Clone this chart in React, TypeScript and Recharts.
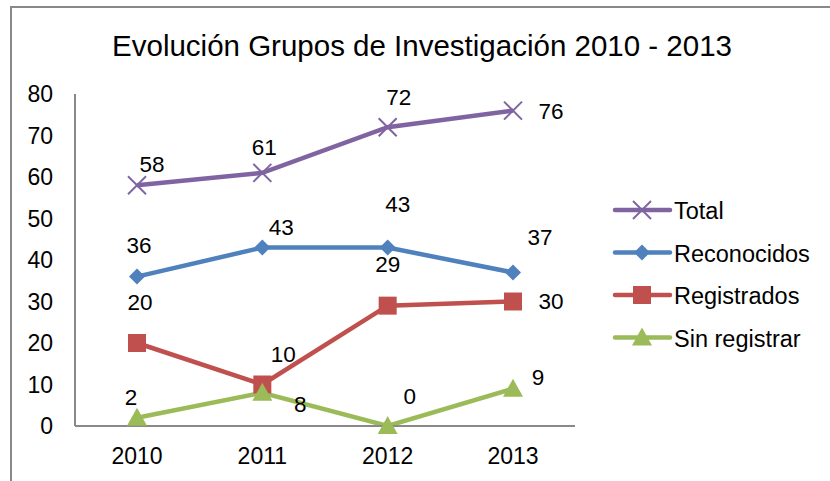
import { LineChart, Line, XAxis, YAxis, LabelList } from 'recharts'

const years = ['2010', '2011', '2012', '2013']
const total = [58, 61, 72, 76]
const reconocidos = [36, 43, 43, 37]
const registrados = [20, 10, 29, 30]
const sinRegistrar = [2, 8, 0, 9]
const yTicks = [0, 10, 20, 30, 40, 50, 60, 70, 80]

const data = years.map((year, i) => ({
  year,
  total: total[i],
  reconocidos: reconocidos[i],
  registrados: registrados[i],
  sinRegistrar: sinRegistrar[i],
}))

const FONT = '"Liberation Sans", Arial, sans-serif'
const PURPLE = '#8064A2'
const BLUE = '#4F81BD'
const RED = '#C0504D'
const GREEN = '#9BBB59'
const AXIS = '#898989'

// label offsets (Excel placed them by hand, more or less)
const labelOffsets: Record<string, [number, number][]> = {
  total: [[15, -21], [2, -25], [11, -30], [38, 1]],
  reconocidos: [[2, -31], [19, -20], [10, -43], [27, -35]],
  registrados: [[3, -41], [21, -30], [0, -41], [38, 0]],
  sinRegistrar: [[-6, -20], [38, 12], [22, -30], [25, -11]],
}

const drawMarker = (shape: string, cx: number, cy: number, color: string, key?: string) => {
  if (shape === 'cross') {
    const r = 9
    return (
      <g key={key}>
        <line x1={cx - r} y1={cy - r} x2={cx + r} y2={cy + r} stroke={color} strokeWidth={2} />
        <line x1={cx - r} y1={cy + r} x2={cx + r} y2={cy - r} stroke={color} strokeWidth={2} />
      </g>
    )
  }
  if (shape === 'diamond') {
    const r = 8
    return (
      <polygon key={key} points={`${cx},${cy - r} ${cx + r},${cy} ${cx},${cy + r} ${cx - r},${cy}`} fill={color} />
    )
  }
  if (shape === 'square') {
    const r = 9
    return <rect key={key} x={cx - r} y={cy - r} width={r * 2} height={r * 2} fill={color} />
  }
  const r = 10
  return (
    <polygon key={key} points={`${cx},${cy - r} ${cx + r},${cy + 8} ${cx - r},${cy + 8}`} fill={color} />
  )
}

const makeDot = (shape: string, color: string) => (props: any) =>
  drawMarker(shape, props.cx, props.cy, color, `dot-${shape}-${props.index}`)

const makeLabel = (series: string) => (props: any) => {
  const { x, y, value, index } = props
  const [dx, dy] = labelOffsets[series][index]
  return (
    <text
      x={x + dx}
      y={y + dy}
      textAnchor="middle"
      dominantBaseline="central"
      fontSize={22.5}
      fontFamily={FONT}
      fill="#000"
    >
      {value}
    </text>
  )
}

const legendItems = [
  { name: 'Total', color: PURPLE, shape: 'cross' },
  { name: 'Reconocidos', color: BLUE, shape: 'diamond' },
  { name: 'Registrados', color: RED, shape: 'square' },
  { name: 'Sin registrar', color: GREEN, shape: 'triangle' },
]

export default function App() {
  return (
    <div style={{ position: 'absolute', left: 0, top: 0, width: 830, height: 481, background: '#fff' }}>
      <LineChart
        width={830}
        height={481}
        data={data}
        margin={{ top: 94, right: 255, bottom: 10, left: 10 }}
        style={{ position: 'absolute', left: 0, top: 0 }}
      >
        <XAxis
          dataKey="year"
          padding={{ left: 62, right: 62 }}
          height={45}
          tickLine={false}
          tickSize={0}
          tickMargin={22}
          axisLine={{ stroke: AXIS, strokeWidth: 2 }}
          tick={{ fontSize: 23, fontFamily: FONT, fill: '#000' }}
        />
        <YAxis
          domain={[0, 80]}
          ticks={yTicks}
          interval={0}
          width={65}
          tickLine={false}
          tickSize={0}
          tickMargin={22}
          axisLine={{ stroke: AXIS, strokeWidth: 2 }}
          tick={{ fontSize: 23, fontFamily: FONT, fill: '#000' }}
        />
        <Line dataKey="total" name="Total" stroke={PURPLE} strokeWidth={4.5} dot={makeDot('cross', PURPLE)} isAnimationActive={false}>
          <LabelList dataKey="total" content={makeLabel('total')} />
        </Line>
        <Line dataKey="reconocidos" name="Reconocidos" stroke={BLUE} strokeWidth={4.5} dot={makeDot('diamond', BLUE)} isAnimationActive={false}>
          <LabelList dataKey="reconocidos" content={makeLabel('reconocidos')} />
        </Line>
        <Line dataKey="registrados" name="Registrados" stroke={RED} strokeWidth={4.5} dot={makeDot('square', RED)} isAnimationActive={false}>
          <LabelList dataKey="registrados" content={makeLabel('registrados')} />
        </Line>
        <Line dataKey="sinRegistrar" name="Sin registrar" stroke={GREEN} strokeWidth={4.5} dot={makeDot('triangle', GREEN)} isAnimationActive={false}>
          <LabelList dataKey="sinRegistrar" content={makeLabel('sinRegistrar')} />
        </Line>
      </LineChart>
      {/* frame, title, legend */}
      <svg width={830} height={481} style={{ position: 'absolute', left: 0, top: 0, pointerEvents: 'none' }}>
        <line x1={11} y1={481} x2={11} y2={7} stroke={AXIS} strokeWidth={2} />
        <line x1={10} y1={7} x2={830} y2={7} stroke={AXIS} strokeWidth={2} />
        <text x={422} y={56} textAnchor="middle" fontSize={29.5} fontFamily={FONT} fill="#000">
          Evolución Grupos de Investigación 2010 - 2013
        </text>
        {legendItems.map((item, i) => {
          const y = 210 + i * 42.5
          return (
            <g key={item.name}>
              <line x1={615} y1={y} x2={670} y2={y} stroke={item.color} strokeWidth={4.5} strokeLinecap="round" />
              {drawMarker(item.shape, 642, y, item.color)}
              <text x={674} y={y + 1} dominantBaseline="central" fontSize={23.5} fontFamily={FONT} fill="#000">
                {item.name}
              </text>
            </g>
          )
        })}
      </svg>
    </div>
  )
}
